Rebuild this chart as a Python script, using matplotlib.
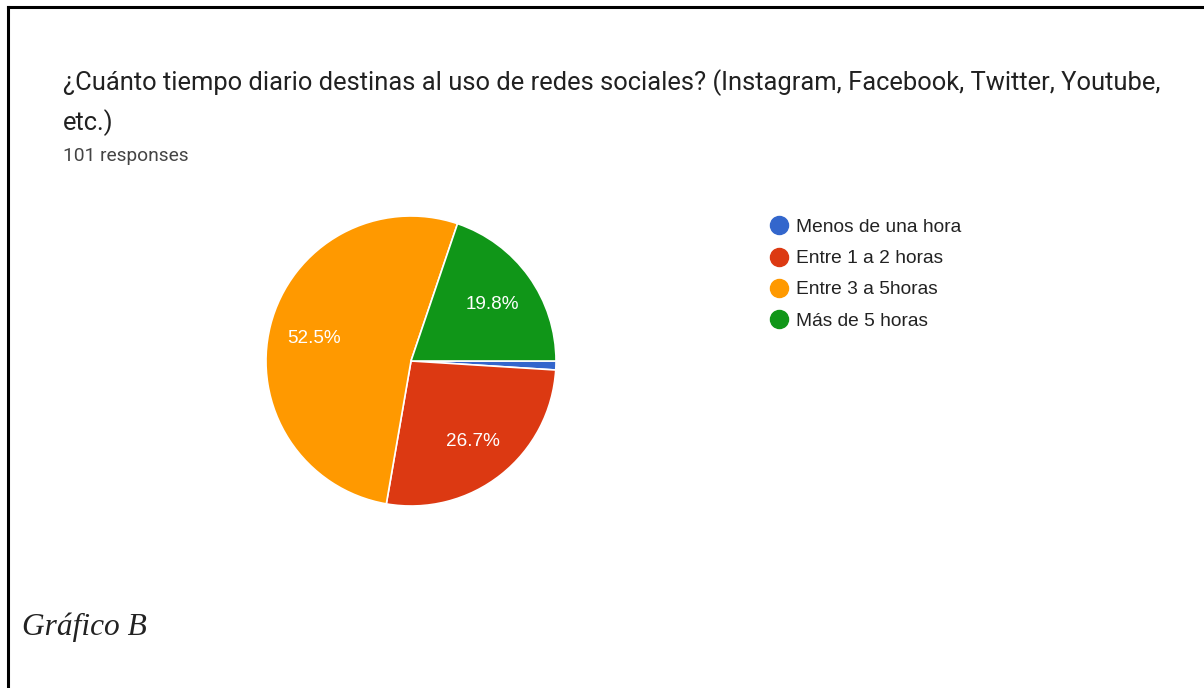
import matplotlib

matplotlib.use("Agg")
import matplotlib.pyplot as plt  # noqa: E402
from matplotlib.lines import Line2D  # noqa: E402

W, H = 1204, 688

title = ("¿Cuánto tiempo diario destinas al uso de redes sociales? "
         "(Instagram, Facebook, Twitter, Youtube,\netc.)")
subtitle = "101 responses"
caption = "Gráfico B"

categories = ["Menos de una hora", "Entre 1 a 2 horas", "Entre 3 a 5horas", "Más de 5 horas"]
counts = [1, 27, 53, 20]
colors = ["#3366CC", "#DC3912", "#FF9900", "#109618"]


def autopct(p):
    return f"{p:.1f}%" if p >= 5 else ""


fig = plt.figure(figsize=(W / 100, H / 100), dpi=100)
fig.patch.set_facecolor("white")

# frame lines (top and left) like the screenshot crop
fig.add_artist(Line2D([8 / W, 1], [1 - 7 / H, 1 - 7 / H], color="black", lw=2.2))
fig.add_artist(Line2D([8 / W, 8 / W], [0, 1 - 7 / H], color="black", lw=2.2))

fig.text(63 / W, 1 - 69 / H, title, ha="left", va="top", fontsize=18.4,
         family="Roboto", color="#212121", linespacing=1.62)
fig.text(63 / W, 1 - 161 / H, subtitle, ha="left", va="baseline", fontsize=13.8,
         family="Roboto", color="#444444")
fig.text(22 / W, 1 - 635 / H, caption, ha="left", va="baseline", fontsize=22.6,
         family="Liberation Serif", style="italic", color="#222222")

ax = fig.add_axes([266 / W, 1 - 506 / H, 290 / W, 290 / H])
wedges, texts, autotexts = ax.pie(
    counts,
    colors=colors,
    startangle=0,
    counterclock=False,
    autopct=autopct,
    pctdistance=0.69,
    radius=1.0,
    wedgeprops=dict(edgecolor="white", linewidth=1.2),
    textprops=dict(color="white", fontsize=13.6, family="Liberation Sans"),
)
for t in autotexts:
    t.set_verticalalignment("center_baseline")
ax.set_xlim(-1.0, 1.0)
ax.set_ylim(-1.0, 1.0)
ax.set_aspect("equal")
ax.axis("off")

handles = [Line2D([], [], marker="o", linestyle="", markersize=13,
                  markerfacecolor=c, markeredgecolor=c) for c in colors]
fig.legend(handles, categories, loc="upper left",
           bbox_to_anchor=(754 / W, 1 - 209 / H), frameon=False,
           prop=dict(family="Liberation Sans", size=13.8), labelcolor="#222222",
           handletextpad=0.1, labelspacing=0.72, borderpad=0, handlelength=1.6)

fig.savefig("out.png", dpi=100)
